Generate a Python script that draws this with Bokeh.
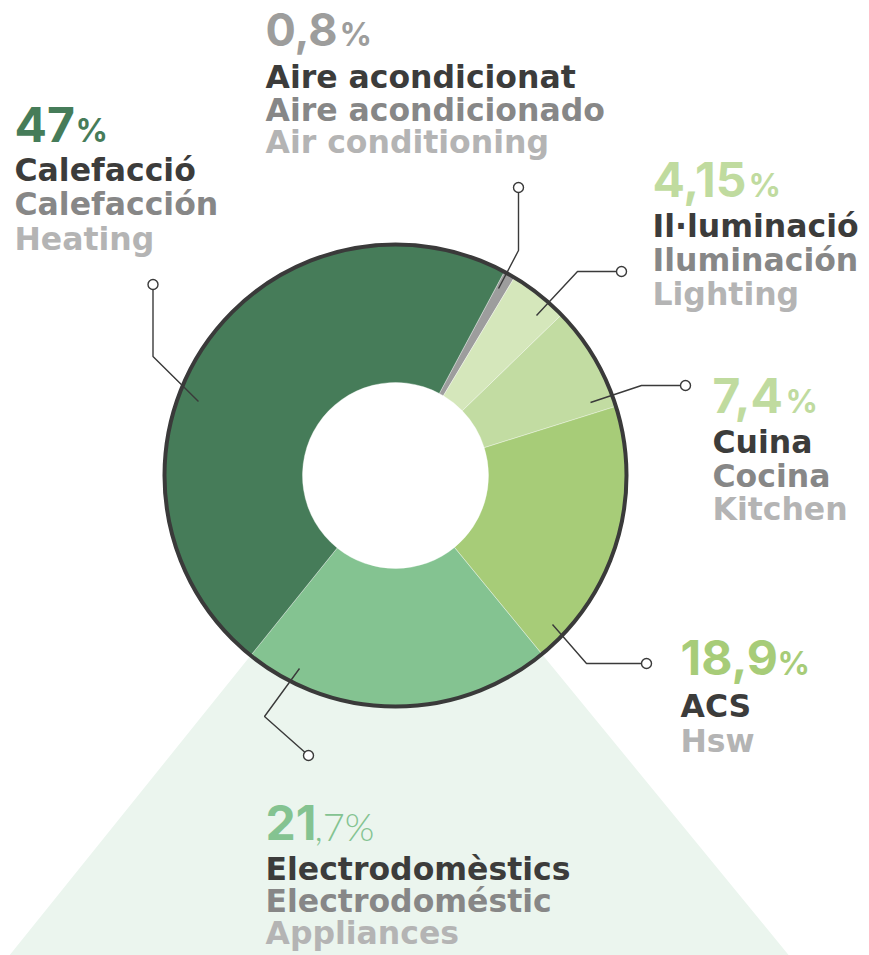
import math
from bokeh.plotting import figure
from bokeh.models import Range1d, ColumnDataSource
from bokeh.embed import file_html
from bokeh.resources import INLINE
from bokeh.core.properties import value

# ---------------- data ----------------
labels_ca = ["Aire acondicionat", "Il·luminació", "Cuina", "ACS", "Electrodomèstics", "Calefacció"]
labels_es = ["Aire acondicionado", "Iluminación", "Cocina", "", "Electrodoméstic", "Calefacción"]
labels_en = ["Air conditioning", "Lighting", "Kitchen", "Hsw", "Appliances", "Heating"]
values = [0.8, 4.15, 7.4, 18.9, 21.7, 47]
value_text = ["0,8", "4,15", "7,4", "18,9", "21,7", "47"]

# ---------------- style ----------------
slice_colors = ["#9d9d9d", "#d5e7bb", "#c2dca2", "#a7cc78", "#84c391", "#467c59"]
pct_colors = ["#9d9d9c", "#c0db9f", "#c0db9f", "#a7cc78", "#84c391", "#467c59"]
DARK = "#3c3c3b"
MID = "#878787"
LIGHT = "#b4b4b4"
FONT = "DejaVu Sans"
NUMFONT = "Inter"
BASE_SHIFT = 0.38   # em offset: rendered baseline sits this far below the anchor

W, H = 869, 955


def Y(py):
    """page y (downwards) -> data y (upwards)"""
    return H - py


p = figure(width=W, height=H, output_backend="svg", toolbar_location=None,
           x_range=Range1d(0, W), y_range=Range1d(0, H),
           min_border=0, outline_line_color=None)
p.axis.visible = False
p.grid.visible = False
p.background_fill_color = "white"
p.border_fill_color = "white"

cx, cy = 395, Y(475)
r_in, r_out = 93, 231
start_cw = 28.1  # degrees clockwise from top where first slice starts

total = sum(values)
starts, ends = [], []
acc = 0.0
for v in values:
    a0 = 90 - start_cw - acc / total * 360
    a1 = a0 - v / total * 360
    starts.append(math.radians(a0))
    ends.append(math.radians(a1))
    acc += v

src = ColumnDataSource(dict(start=starts, end=ends, color=slice_colors))

# light green spotlight behind "Electrodomèstics"
ie = labels_ca.index("Electrodomèstics")
p.annular_wedge(x=cx, y=cy, inner_radius=r_out - 5, outer_radius=900,
                start_angle=starts[ie], end_angle=ends[ie],
                direction="clock", fill_color="#ebf5ee", line_color=None)

p.annular_wedge(x=cx, y=cy, inner_radius=r_in, outer_radius=r_out,
                start_angle="start", end_angle="end", direction="clock",
                fill_color="color", line_color="white", line_width=0.6,
                line_alpha=0.6, source=src)
p.circle(x=cx, y=cy, radius=r_out, fill_color=None, line_color="#3a3a3a", line_width=4)

# leader lines (page coordinates), order as labels
leaders = [
    [(498, 288), (518, 250), (518, 187)],
    [(536, 315), (577, 271), (621, 271)],
    [(590, 402), (641, 385), (685, 385)],
    [(552, 624), (586, 663), (646, 663)],
    [(299, 668), (264, 716), (308, 755)],
    [(198, 401), (152.5, 356), (152.5, 284)],
]
for pts in leaders:
    p.line([q[0] for q in pts], [Y(q[1]) for q in pts], line_color="#3a3a3a", line_width=1.4)
p.scatter([pts[-1][0] for pts in leaders], [Y(pts[-1][1]) for pts in leaders],
          marker="circle", size=10, fill_color="white", line_color="#3a3a3a", line_width=1.4)

# text blocks: x, digits baseline, first label baseline, line spacing, % x, digit size
blocks = [
    (265, 46, 88.5, 32.5, 339, 45),
    (652, 197, 237.5, 34, 748, 48),
    (712, 413, 453.5, 33.5, 785, 48),
    (680, 675, 717, 35, 777, 48),
    (265, 840, 880, 32, 314, 48),
    (14, 142, 181, 34.5, 75, 48),
]


def txt(x, py, s, color, size, style="bold", font=FONT):
    p.text(x=[x], y=[Y(py - BASE_SHIFT * size)], text=[s], text_color=color,
           text_font=value(font), text_font_size=f"{size}px", text_font_style=style,
           text_align="left", text_baseline="alphabetic")


for i, (x, dy, ly, sp, px, dsz) in enumerate(blocks):
    vt = value_text[i]
    if labels_ca[i] == "Electrodomèstics":
        ip, dp = vt.split(",")
        txt(x, dy, ip, pct_colors[i], dsz, font=NUMFONT)
        txt(px, dy, "," + dp + "%", pct_colors[i], 38, style="normal", font="Lato Light")
    else:
        txt(x, dy, vt, pct_colors[i], dsz, font=NUMFONT)
        txt(px, dy, "%", pct_colors[i], 32, font=NUMFONT)
    lines = [(labels_ca[i], DARK), (labels_es[i], MID), (labels_en[i], LIGHT)]
    lines = [l for l in lines if l[0]]
    for k, (s, c) in enumerate(lines):
        txt(x, ly + k * sp, s, c, 31.5)

open("out.html", "w").write(file_html(p, INLINE))
